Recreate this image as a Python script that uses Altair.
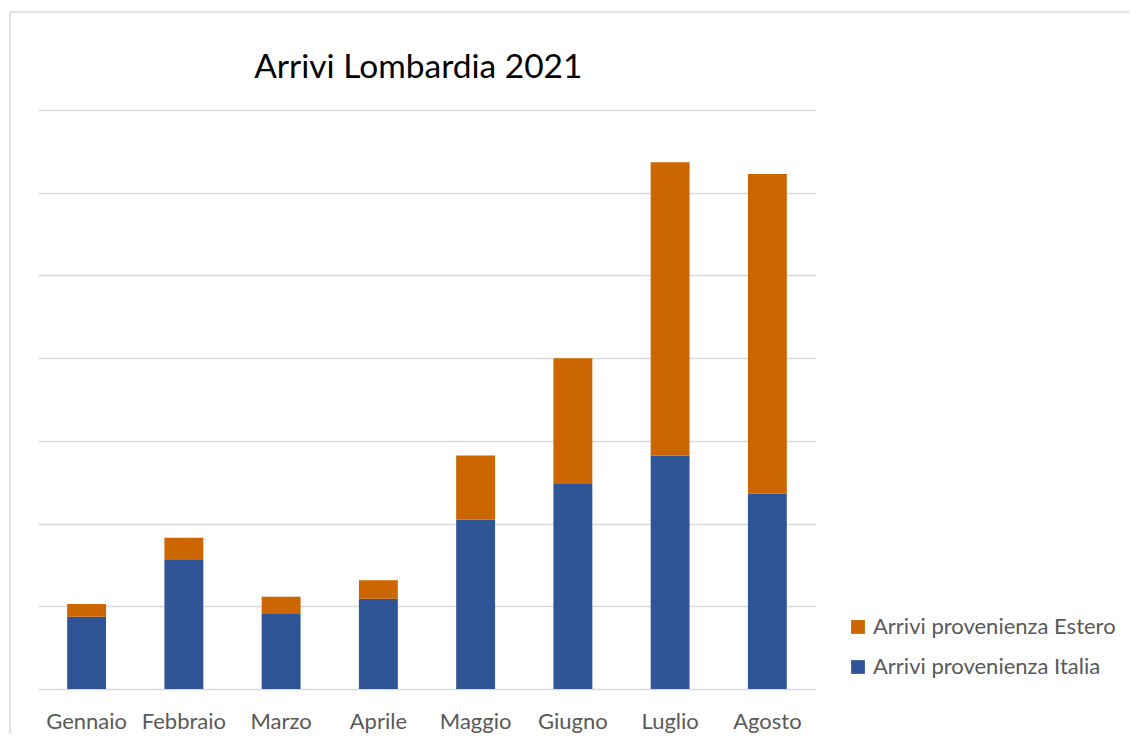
import altair as alt
import pandas as pd

mesi = ["Gennaio", "Febbraio", "Marzo", "Aprile", "Maggio", "Giugno", "Luglio", "Agosto"]
italia = [87400, 157000, 90700, 109000, 205000, 247700, 282400, 236400]
estero = [15400, 26000, 20900, 22500, 77400, 152300, 354500, 386300]
serie = ["Arrivi provenienza Estero", "Arrivi provenienza Italia"]
colori = ["#CC6600", "#2F5597"]
y_ticks = [0, 100000, 200000, 300000, 400000, 500000, 600000, 700000]

rows = []
for m, i, e in zip(mesi, italia, estero):
    rows.append({"Mese": m, "Serie": serie[1], "Valore": i, "ord": 0})
    rows.append({"Mese": m, "Serie": serie[0], "Valore": e, "ord": 1})
df = pd.DataFrame(rows)

FONT = "Lato"

bars = alt.Chart(df).mark_bar().encode(
    x=alt.X("Mese:N", sort=mesi, title=None,
            scale=alt.Scale(paddingInner=0.6, paddingOuter=0.3),
            axis=alt.Axis(labelAngle=0, labelFontSize=22, labelColor="#595959",
                          labelFont=FONT, domain=False, ticks=False, tickSize=0,
                          labelPadding=39, labelBaseline="alphabetic", grid=False)),
    y=alt.Y("Valore:Q", stack="zero", title=None,
            scale=alt.Scale(domain=[0, 700000], nice=False),
            axis=alt.Axis(values=y_ticks, labels=False, ticks=False, domain=False,
                          grid=True, gridColor="#d9d9d9", gridWidth=1.5)),
    color=alt.Color("Serie:N", scale=alt.Scale(domain=serie, range=colori),
                    legend=alt.Legend(title=None, orient="none", legendX=809, legendY=506,
                                      symbolType="square", symbolSize=190,
                                      symbolStrokeWidth=0, labelFontSize=22,
                                      labelColor="#595959", labelFont=FONT,
                                      rowPadding=18, labelOffset=4, padding=0,
                                      labelLimit=400)),
    order=alt.Order("ord:Q", sort="ascending"),
)

frame = alt.Chart(pd.DataFrame({"a": [0]})).mark_rect(
    fillOpacity=0, stroke="#d9d9d9", strokeWidth=1.5
).encode(x=alt.value(-28), x2=alt.value(1200), y=alt.value(-98), y2=alt.value(700))

chart = alt.layer(frame, bars).properties(
    width=778, height=579,
    padding={"left": 30, "top": 102, "right": 313, "bottom": 45},
    autosize="none",
    title=alt.TitleParams("Arrivi Lombardia 2021", anchor="start", dx=245, dy=135,
                          offset=35, baseline="alphabetic", fontSize=33.5,
                          font=FONT, fontWeight="normal", color="#000000"),
).configure_view(strokeWidth=0)

chart.save("out.html", embed_options={"renderer": "svg", "actions": False})
